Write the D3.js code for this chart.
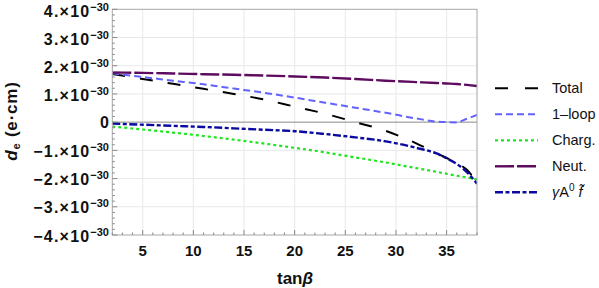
<!DOCTYPE html>
<html>
<head>
<meta charset="utf-8">
<script src="https://cdn.jsdelivr.net/npm/d3@7"></script>
<style>
  body { margin: 0; background: #fff; }
  svg { display: block; font-family: "Liberation Sans", Arial, sans-serif; }
</style>
</head>
<body>
<script>
// values in units of 1e-30 e·cm
const tanBeta = [2, 5, 8, 11, 14, 17, 20, 23, 26, 29, 32, 34, 35, 36, 37, 38];
const total   = [1.71, 1.53, 1.36, 1.18, 1.00, 0.80, 0.55, 0.30, 0.00, -0.31, -0.75, -1.10, -1.27, -1.45, -1.69, -2.15];
const oneLoop = [1.73, 1.60, 1.47, 1.34, 1.19, 1.04, 0.87, 0.69, 0.51, 0.33, 0.13, 0.02, 0.00, -0.01, 0.12, 0.26];
const charg   = [-0.155, -0.26, -0.37, -0.49, -0.62, -0.76, -0.91, -1.07, -1.25, -1.43, -1.63, -1.76, -1.83, -1.90, -1.96, -2.03];
const neut    = [1.76, 1.745, 1.725, 1.70, 1.68, 1.65, 1.62, 1.58, 1.53, 1.47, 1.42, 1.39, 1.37, 1.35, 1.32, 1.28];
const gammaA0 = [-0.05, -0.09, -0.13, -0.17, -0.22, -0.27, -0.32, -0.42, -0.54, -0.68, -0.91, -1.11, -1.28, -1.48, -1.77, -2.18];

const xTicks = [5, 10, 15, 20, 25, 30, 35];
const yTicks = [-4, -3, -2, -1, 0, 1, 2, 3, 4];

const series = [
  {name: "Total",  values: total,   color: "#000000", dash: "13,15",       width: 2},
  {name: "1–loop", values: oneLoop, color: "#6262ff", dash: "7,4",         width: 2},
  {name: "Charg.", values: charg,   color: "#1ee61e", dash: "3,3",         width: 2.2},
  {name: "Neut.",  values: neut,    color: "#5e0a5e", dash: "19,3",        width: 2.4},
  {name: "gamma",  values: gammaA0, color: "#0a0aa0", dash: "8,2.5,4,2.5", width: 2.4}
];

const W = 599, H = 288;
const pLeft = 112.3, pRight = 477, pTop = 9.3, pBottom = 235;

const svg = d3.select("body").append("svg")
    .attr("width", W)
    .attr("height", H);

const x = d3.scaleLinear().domain([2, 38]).range([pLeft, pRight]);
const y = d3.scaleLinear().domain([-4, 4]).range([pBottom, pTop]);

// grid
svg.append("g").selectAll("line").data(xTicks).join("line")
    .attr("x1", d => x(d)).attr("x2", d => x(d))
    .attr("y1", pTop).attr("y2", pBottom)
    .attr("stroke", "#e8e8e8").attr("stroke-width", 1);
svg.append("g").selectAll("line").data(yTicks.filter(d => d != 0 && Math.abs(d) < 4)).join("line")
    .attr("x1", pLeft).attr("x2", pRight)
    .attr("y1", d => y(d)).attr("y2", d => y(d))
    .attr("stroke", "#e8e8e8").attr("stroke-width", 1);

// zero axis
svg.append("line")
    .attr("x1", pLeft).attr("x2", pRight)
    .attr("y1", y(0)).attr("y2", y(0))
    .attr("stroke", "#8a8a8a").attr("stroke-width", 1);

// curves
svg.append("clipPath").attr("id", "clip")
  .append("rect").attr("x", pLeft).attr("y", pTop)
    .attr("width", pRight - pLeft).attr("height", pBottom - pTop);

const line = d3.line()
    .x((d, i) => x(tanBeta[i]))
    .y(d => y(d))
    .curve(d3.curveMonotoneX);

svg.append("g").attr("clip-path", "url(#clip)")
  .selectAll("path").data(series).join("path")
    .attr("d", d => line(d.values))
    .attr("fill", "none")
    .attr("stroke", d => d.color)
    .attr("stroke-width", d => d.width)
    .attr("stroke-dasharray", d => d.dash);

// frame
svg.append("rect")
    .attr("x", pLeft).attr("y", pTop)
    .attr("width", pRight - pLeft).attr("height", pBottom - pTop)
    .attr("fill", "none").attr("stroke", "#a6a6a6").attr("stroke-width", 1);

// minor + major ticks, pointing inward
const yMinor = d3.range(-4, 4.001, 0.2);
svg.append("g").selectAll("line").data(yMinor).join("line")
    .attr("x1", pLeft).attr("x2", d => pLeft + (Math.abs(d - Math.round(d)) < 1e-6 ? 5 : 2.5))
    .attr("y1", d => y(d)).attr("y2", d => y(d))
    .attr("stroke", "#8a8a8a");
const xMinor = d3.range(2, 38.001, 1);
svg.append("g").selectAll("line").data(xMinor).join("line")
    .attr("x1", d => x(d)).attr("x2", d => x(d))
    .attr("y1", pBottom).attr("y2", d => pBottom - (d % 5 == 0 ? 5 : 2.5))
    .attr("stroke", "#8a8a8a");

// y tick labels
const yl = svg.append("g").selectAll("text").data(yTicks).join("text")
    .attr("x", d => d == 0 ? 109 : 109)
    .attr("y", d => y(d) + (d > 0 ? 7.5 : (d < 0 ? 6.5 : 5.5)))
    .attr("text-anchor", "end")
    .attr("font-weight", "bold")
    .attr("font-size", 16)
    .attr("fill", "#111");
yl.each(function(d) {
  const t = d3.select(this);
  if (d == 0) { t.text("0"); return; }
  t.append("tspan").attr("letter-spacing", 1.2).text((d < 0 ? "−" : "") + Math.abs(d) + ".×10");
  t.append("tspan").attr("dy", -6).attr("font-size", 11).text("−30");
});

// x tick labels
svg.append("g").selectAll("text").data(xTicks).join("text")
    .attr("x", d => x(d))
    .attr("y", 256)
    .attr("text-anchor", "middle")
    .attr("font-weight", "bold")
    .attr("font-size", 15)
    .attr("fill", "#111")
    .text(d => d);

// axis titles
const xt = svg.append("text")
    .attr("x", 295).attr("y", 284)
    .attr("text-anchor", "middle")
    .attr("font-weight", "bold")
    .attr("font-size", 17)
    .attr("fill", "#111");
xt.append("tspan").text("tan");
xt.append("tspan").attr("font-style", "italic").text("β");

const yt = svg.append("text")
    .attr("transform", "translate(17,121) rotate(-90)")
    .attr("text-anchor", "middle")
    .attr("font-weight", "bold")
    .attr("font-size", 17)
    .attr("letter-spacing", 0.8)
    .attr("fill", "#111");
yt.append("tspan").attr("font-style", "italic").text("d");
yt.append("tspan").attr("font-size", 11).attr("dy", 3).text("e");
yt.append("tspan").attr("dy", -3).text(" (e·cm)");

// legend
const lg = svg.append("g").selectAll("g").data(series).join("g")
    .attr("transform", (d, i) => `translate(495,${88.3 + i * 26})`);
lg.append("line")
    .attr("x1", 0).attr("x2", 43)
    .attr("stroke", d => d.color)
    .attr("stroke-width", d => d.width)
    .attr("stroke-dasharray", d => d.name == "Total" ? "13,17" : d.dash);
lg.append("text")
    .attr("x", 57).attr("y", 5)
    .attr("font-size", 14.5)
    .attr("fill", "#111")
    .each(function(d) {
      const t = d3.select(this);
      if (d.name != "gamma") { t.text(d.name); return; }
      t.append("tspan").attr("font-style", "italic").text("γ");
      t.append("tspan").text("A");
      t.append("tspan").attr("dy", -6).attr("font-size", 10).text("0");
      t.append("tspan").attr("dy", 6).attr("font-style", "italic").text(" f\u0303");
    });
</script>
</body>
</html>
